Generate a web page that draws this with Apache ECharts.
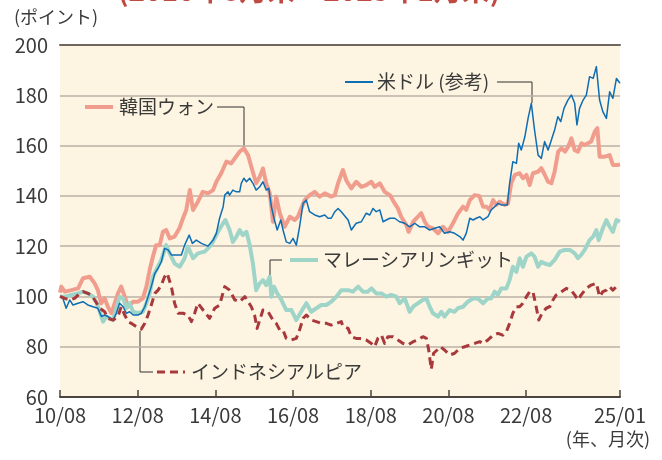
<!DOCTYPE html>
<html><head><meta charset="utf-8">
<script src="https://cdn.jsdelivr.net/npm/echarts@6/dist/echarts.min.js"></script>
<style>html,body{margin:0;padding:0;background:#fff}#c{width:662px;height:460px}</style>
</head><body><div id="c"></div>
<script>
// x = months since 2010/08
const tickMonths = [0,24,48,72,96,120,144,173];
const tickLabels = ['10/08','12/08','14/08','16/08','18/08','20/08','22/08','25/01'];

const wonData = [[0,101.5],[0.4,103.9],[1.5,101.9],[3.5,102.5],[5.6,103.2],[7.1,107.2],[9.2,107.8],[10.7,105.2],[11.7,102.5],[12.7,97.3],[13.8,99.2],[14.8,95.9],[15.9,93.3],[16.9,97.3],[17.9,101.2],[18.9,103.9],[20,99.9],[21,95.9],[22.6,97.9],[24.1,97.9],[25.6,99.2],[26.7,103.9],[27.7,110.5],[28.7,115.8],[29.7,120.4],[30.8,120.4],[31.8,125.7],[32.8,126.4],[33.9,123.1],[35.4,123.8],[36.9,127.1],[38,131.1],[39,134.4],[40.1,142.3],[41.1,134.4],[42.6,137.7],[44.1,141.6],[45.7,141],[47.3,142.3],[48.3,145.6],[49.8,149],[51.4,153.6],[52.9,152.9],[54,154.9],[55.5,157.6],[56.8,158.9],[58.1,156.2],[59.1,151.6],[60.6,145],[61.7,147.6],[62.7,150.9],[63.7,145],[64.8,141],[65.8,129.7],[66.8,139.7],[67.9,133.1],[69.4,127.7],[71,131.7],[72.5,130.4],[73.5,131.7],[74.5,135],[75.6,138.3],[77.1,140.3],[78.7,141.6],[80.2,139.7],[81.8,141],[83.8,139.7],[84.9,140.3],[85.9,145],[87.4,150.3],[88.5,146],[90,143],[91.5,145.6],[93.1,143.6],[94.6,144.3],[96.2,145.6],[97.2,143.6],[98.8,145],[100.3,141.6],[101.9,140.3],[103.4,137],[104.4,135],[105.4,131.7],[107,128.4],[107.7,125.7],[109.1,129.7],[110.6,131.7],[111.6,133.1],[112.7,129.7],[113.7,127.7],[115.2,127.1],[116.8,125.1],[118.3,127.7],[119.9,125.7],[121.4,129.1],[123,133.1],[124.5,135.7],[125.5,134.4],[126.6,138.3],[128.1,140.3],[129.5,140],[130.7,135.7],[131.7,135.7],[132.7,134.4],[133.8,138.3],[134.8,136.4],[135.8,137.7],[137.4,136.4],[138.4,137],[139.4,145],[140.5,148.3],[142,149],[143,147],[144.1,148.3],[145.1,144.3],[146.1,149],[147.7,149.6],[148.7,151],[149.8,148.3],[150.8,145.6],[151.8,145],[152.8,149.6],[153.9,157.6],[154.9,158.9],[156,157.6],[157,159.6],[158,162.9],[159,158.2],[160,157.6],[161.1,160.9],[162.1,160.2],[163.1,160.9],[164.1,161.6],[165.2,165.5],[166,166.9],[166.7,155.6],[168.3,155.6],[169.8,156.2],[170.8,152.3],[172.4,152.3],[173,152.5]];

const usdData = [[0,100],[0.9,99.2],[1.9,95.3],[3,98.6],[4,96.6],[5.6,97.3],[7.1,97.9],[8.6,96.6],[10.2,95.9],[11.7,95.3],[12.8,92],[13.8,92.6],[14.8,92],[16.4,90.6],[17.4,93.3],[18.4,97.3],[19.5,95.9],[20.5,93.3],[21.5,93.9],[22.6,92.6],[24.1,92.6],[25.1,93.3],[26.2,95.9],[27.2,99.9],[28.2,103.9],[29.3,109.2],[30.3,111.2],[31.3,113.8],[32.3,119.1],[33.4,118.5],[34.4,116.5],[35.9,116.5],[37.5,116.5],[38.5,120.4],[39.9,124.4],[40.9,121.1],[42.1,122.4],[43.7,121.1],[45.7,120],[47.3,122.4],[48.3,125.1],[49.3,131.1],[50.4,135.7],[50.9,140.3],[51.9,141.6],[52.4,140.3],[53.4,142.3],[54.5,141.6],[55.5,141.6],[56,145],[56.8,147],[57.6,145.6],[58.6,147],[59.6,145],[60.6,142.3],[61.7,143.6],[62.7,145.6],[63.7,142.3],[64.5,143],[65.3,135.7],[66.1,131.1],[67.1,126.4],[68.2,130.4],[68.9,126.4],[69.9,121.7],[71,121.1],[72,123.1],[73,120.4],[74,127.7],[75.1,137],[76.1,138.3],[77.1,133.7],[78.7,132.4],[80.2,131.7],[81.8,132.4],[82.8,131.1],[83.8,131.1],[84.9,133.7],[85.9,135],[86.9,133.7],[87.4,133.1],[89,130.4],[90,126.4],[91.5,129.1],[93.1,129.7],[94.6,133.1],[95.7,132.4],[96.7,135],[97.7,133.7],[98.8,134.4],[99.8,129.7],[100.8,130.4],[101.9,131.1],[103.4,131.1],[104.9,129.7],[106.5,129.1],[108,127.7],[109.6,129.1],[111.1,127.7],[112.7,127.7],[114.2,126.4],[115.8,127.1],[117.3,127.7],[118.8,125.1],[120.4,125.7],[121.9,125.1],[123.5,123.8],[124.5,122.4],[125.5,125.1],[126.6,131.1],[127.6,130.4],[128.6,131.1],[129.7,131.7],[130.7,130.4],[132.2,131.7],[133.2,134.4],[134.3,135.7],[135.3,137],[136.3,136.4],[138.2,136.4],[138.9,145],[139.9,153.6],[141,152.9],[141.7,160.9],[142.5,158.2],[143.6,163.5],[144.6,170.8],[145.6,176.8],[146.6,166.2],[147.7,156.2],[148.7,154.9],[149.7,161.6],[150.8,158.2],[151.8,162.2],[152.8,166.2],[153.8,171.5],[154.7,169.5],[155.7,174.8],[156.9,178.1],[158,180.1],[159,176.8],[159.7,168.2],[160.5,174.8],[161.6,178.1],[162.6,180.1],[163.6,187.4],[164.7,186.7],[165.7,191.4],[166.7,178.1],[167.7,173.5],[168.8,170.8],[169.8,181.4],[170.8,178.8],[171.9,186.7],[173,184.8]];

const myrData = [[0,100],[1.5,99.9],[3.5,100.6],[5.6,101.2],[7.1,101.9],[8.6,101.2],[10.2,99.9],[11.2,97.9],[12.3,93.9],[13.3,90],[14.3,92],[15.4,91.3],[16.4,90.6],[17.4,95.3],[18.4,99.9],[19.5,99.2],[20.5,95.3],[21.5,97.3],[22.6,93.9],[24.1,93.3],[25.6,93.9],[26.7,97.3],[27.7,101.2],[28.7,107.8],[29.7,110.5],[31.3,114.5],[32.8,120.4],[33.9,117.1],[35.4,113.1],[37,111.8],[38.5,115.2],[39.5,119.8],[41.1,115.2],[42.6,117.1],[44.7,117.8],[46.7,120.4],[48.8,125.7],[50.4,129.1],[51.1,130.4],[52.4,126.4],[53.4,121.7],[54.5,123.8],[55.5,126.4],[56.5,124.4],[57.6,125.7],[58.6,120.4],[59.6,113.1],[60.6,102.5],[61.7,105.2],[62.7,106.5],[63.7,104.5],[64.8,107.8],[65.3,99.9],[66.1,103.9],[67.1,101.2],[68.4,98.6],[69.9,94.6],[71.5,94.6],[73,90.6],[74.5,93.9],[76.1,97.3],[77.6,93.9],[79.2,95.3],[80.7,96.6],[82.3,96.6],[83.8,97.9],[85.4,99.9],[86.9,102.5],[89,102.5],[90.5,101.9],[92.1,103.9],[93.6,101.9],[95.1,101.9],[96.2,103.2],[97.7,101.2],[99.3,101.2],[100.8,99.9],[102.3,100.6],[103.9,99.9],[104.9,97.3],[106.5,99.2],[108,93.9],[109.1,95.9],[110.6,97.3],[112.1,98.6],[113.2,99.2],[114.2,95.9],[115.2,93.3],[116.8,92],[117.8,93.9],[118.8,92],[120.4,94.6],[121.9,93.9],[122.9,95.3],[124.5,95.9],[126,97.9],[127.6,99.2],[129.1,99.2],[130.7,97.3],[132.2,99.2],[133.2,99.2],[134.3,101.9],[135.3,100.6],[136.3,103.2],[137.9,103.2],[138.9,106.5],[139.9,111.8],[141,109.8],[142,115.2],[143,111.8],[144.1,115.8],[145.6,117.1],[146.6,115.8],[147.7,111.8],[148.7,113.8],[149.7,113.1],[151.3,112.5],[152.8,114.5],[154.4,117.8],[155.9,118.5],[157.5,118.5],[159,117.1],[160,115.2],[161,116.5],[162.1,118.5],[163.6,122.4],[164.7,123.8],[165.7,126.4],[166.4,122.4],[167.7,127.1],[168.8,130.4],[169.8,127.7],[170.8,125.7],[171.9,130.4],[173,129.7]];

const idrData = [[0,100],[1.5,99.2],[3,98.6],[4.5,99.2],[6.1,101.2],[7.1,101.9],[8.6,101.2],[9.7,100.6],[10.7,98.6],[12.3,95.3],[13.8,93.9],[14.8,91.3],[16.4,90.6],[17.9,92],[18.9,95.9],[20,92.6],[21,90],[22,89.3],[23.6,88],[25.1,87],[26.2,89.3],[27.2,92.6],[28.2,96.6],[29.3,101.2],[30.3,102.5],[31.3,104.5],[32.3,107.8],[33.1,109.2],[34.4,103.9],[35.4,97.3],[36.5,93.3],[38,93.3],[39.5,92.6],[40.6,90],[41.6,93.3],[42.6,97.3],[44.2,94.6],[46.2,91.3],[47.8,95.3],[49.3,96.6],[50.9,103.9],[52.4,102.5],[54,98.6],[55.5,97.9],[57.1,99.9],[58.1,97.9],[59.1,95.9],[60.1,92.6],[60.9,87.3],[61.7,90.6],[62.7,94.6],[64.3,93.9],[65.8,90.6],[66.8,89.3],[67.9,86.6],[68.9,86.6],[69.9,83.3],[71.5,82.7],[73,83.3],[74,86.6],[75.1,91.3],[76.1,92.6],[77.6,90.6],[79.2,90],[80.7,89.3],[82.3,89.3],[83.8,88.6],[85.4,89.3],[86.9,90],[87.4,88],[89,87.3],[90,84],[91.5,83.3],[93.1,83.3],[94.6,82.7],[96.2,81.3],[97.2,80],[98.2,83.3],[99.3,84.6],[100.3,81.3],[101.3,84],[102.9,84],[104.4,82.7],[106,81.3],[107.5,80.7],[109.1,82],[110.6,82.7],[112.1,84],[113.2,83.3],[113.9,78.7],[114.7,71],[115.4,77.4],[116.5,78.7],[117.5,80],[118.8,78.7],[120.4,76.7],[121.9,77.4],[123.5,79.4],[125,80],[126.6,80.7],[128.1,81.3],[129.7,82],[130.7,81.3],[132.2,82.7],[133.8,84.6],[135.3,85.3],[136.8,84.6],[137.9,86],[138.9,89.3],[139.9,93.3],[141,95.9],[142,95.9],[143,97.3],[144.1,99.9],[145.1,101.9],[146.1,101.9],[147.1,95.9],[147.9,90.6],[148.9,93.3],[150.2,95.3],[151.3,95.9],[152.3,98.6],[153.3,100.6],[154.9,101.9],[156.4,103.2],[157.9,102.5],[159,100.6],[160,98.6],[161,100.6],[162.6,103.2],[164.1,104.5],[165.7,105.2],[166.7,99.9],[167.7,101.9],[168.8,102.5],[169.8,103.9],[170.8,102.5],[171.9,103.9],[173,103.2]];

const FONT = '"Noto Sans CJK JP","Noto Sans",sans-serif';
const TXT = '#3a3a3a';
const chart = echarts.init(document.getElementById('c'), null, {renderer:'canvas'});

function lineSeries(name, data, color, width, z, dash){
  return {name, type:'line', data, showSymbol:false, symbol:'none', z,
    lineStyle:{color, width, type: dash || 'solid', cap:'butt', join:'round'},
    emphasis:{disabled:true}, animation:false};
}

chart.setOption({
  animation:false,
  grid:{left:60, right:42, top:45, bottom:63, show:true, backgroundColor:'#fdf4e1', borderWidth:0},
  xAxis:[{
    type:'value', min:0, max:173,
    axisLine:{show:true, onZero:false, lineStyle:{color:'#4a4540', width:2}},
    axisTick:{show:true, inside:true, length:7, customValues:tickMonths, lineStyle:{color:'#4a4540', width:1.5}},
    axisLabel:{customValues:tickMonths, formatter:v => tickLabels[tickMonths.indexOf(v)], fontSize:20, color:TXT, margin:8, fontFamily:FONT},
    splitLine:{show:false}
  },{
    type:'value', position:'top', min:0, max:173,
    axisLine:{show:true, onZero:false, lineStyle:{color:'#6e655c', width:2}},
    axisTick:{show:false}, axisLabel:{show:false}, splitLine:{show:false}
  }],
  yAxis:{
    type:'value', min:60, max:200, interval:20,
    axisLine:{show:false}, axisTick:{show:false},
    axisLabel:{fontSize:20, color:TXT, margin:12, fontFamily:FONT},
    splitLine:{lineStyle:{color:'#bab2a6', width:1.5}}
  },
  series:[
    lineSeries('韓国ウォン', wonData, '#f19d8e', 4, 2),
    lineSeries('マレーシアリンギット', myrData, '#9fd5c9', 4, 3),
    lineSeries('米ドル(参考)', usdData, '#0d6eb3', 1.5, 4),
    lineSeries('インドネシアルピア', idrData, '#a8383b', 3, 5, [8,5])
  ],
  graphic:[
    {type:'text', left:118, top:-24, style:{text:'(2010年8月末～2025年1月末)', fill:'#bf4a42', font:'bold 28px '+FONT}},
    {type:'text', left:14, top:8, style:{text:'(ポイント)', fill:TXT, font:'18px '+FONT}},
    {type:'text', right:12, top:430, style:{text:'(年、月次)', fill:TXT, font:'18px '+FONT}},
    // Korean won label
    {type:'line', shape:{x1:85,y1:107,x2:113,y2:107}, style:{stroke:'#f19d8e', lineWidth:4}},
    {type:'text', x:119, y:107, style:{text:'韓国ウォン', fill:TXT, font:'19px '+FONT, verticalAlign:'middle'}},
    {type:'polyline', shape:{points:[[217,107],[244,107],[244,147]]}, style:{stroke:'#333', lineWidth:1, fill:null}},
    // USD label
    {type:'line', shape:{x1:345,y1:82,x2:373,y2:82}, style:{stroke:'#0d6eb3', lineWidth:2}},
    {type:'text', x:377, y:82, style:{text:'米ドル (参考)', fill:TXT, font:'19px '+FONT, verticalAlign:'middle'}},
    {type:'polyline', shape:{points:[[497,82],[532,82],[532,103]]}, style:{stroke:'#333', lineWidth:1, fill:null}},
    // MYR label
    {type:'polyline', shape:{points:[[270,275],[270,260],[282,260]]}, style:{stroke:'#333', lineWidth:1, fill:null}},
    {type:'line', shape:{x1:290,y1:260,x2:318,y2:260}, style:{stroke:'#9fd5c9', lineWidth:4}},
    {type:'text', x:323, y:260, style:{text:'マレーシアリンギット', fill:TXT, font:'19px '+FONT, verticalAlign:'middle'}},
    // IDR label
    {type:'polyline', shape:{points:[[140,331],[140,372],[153,372]]}, style:{stroke:'#333', lineWidth:1, fill:null}},
    {type:'line', shape:{x1:157,y1:372,x2:185,y2:372}, style:{stroke:'#a8383b', lineWidth:3, lineDash:[8,5]}},
    {type:'text', x:191, y:372, style:{text:'インドネシアルピア', fill:TXT, font:'19px '+FONT, verticalAlign:'middle'}}
  ]
});
</script></body></html>
